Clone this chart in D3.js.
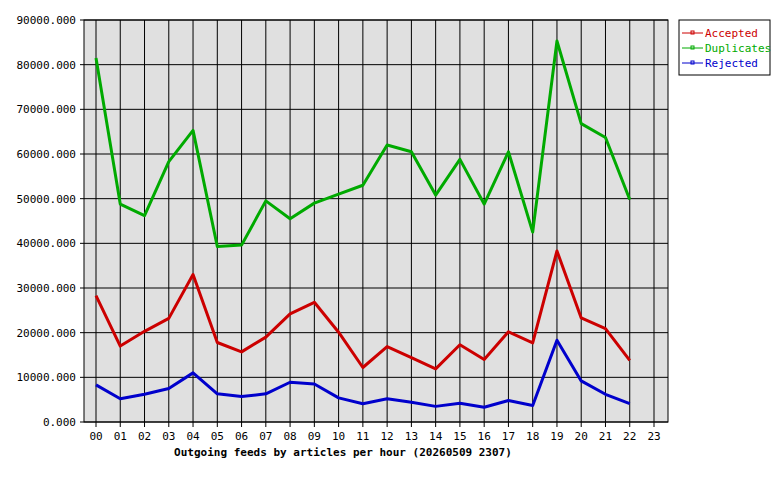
<!DOCTYPE html>
<html><head><meta charset="utf-8">
<script src="https://cdn.jsdelivr.net/npm/d3@7"></script>
<style>body{margin:0;background:#fff}text{font-family:"DejaVu Sans Mono",monospace;font-size:11px}</style>
</head><body><svg id="c" width="780" height="480"></svg>
<script>
const hours=["00","01","02","03","04","05","06","07","08","09","10","11","12","13","14","15","16","17","18","19","20","21","22","23"];
const accepted=[28300,17000,20300,23200,33000,17800,15700,19000,24200,26800,20100,12200,16900,14400,11900,17300,14000,20200,17700,38300,23300,20900,13800];
const duplicates=[81500,48800,46200,58300,65300,39300,39600,49500,45500,49000,51000,53000,62000,60500,50800,58800,48800,60500,42500,85300,66800,63700,49800];
const rejected=[8300,5200,6200,7500,11000,6300,5700,6300,8900,8500,5400,4100,5200,4400,3500,4200,3300,4800,3700,18300,9200,6200,4100];
const yTicks=[0,10000,20000,30000,40000,50000,60000,70000,80000,90000];
const series=[{name:"Accepted",color:"#cc0000",v:accepted},{name:"Duplicates",color:"#00aa00",v:duplicates},{name:"Rejected",color:"#0000cc",v:rejected}];
const svg=d3.select("#c");
const L=84,R=668,T=20,B=422;
const x=d3.scalePoint().domain(hours).range([96,654]);
const y=d3.scaleLinear().domain([0,90000]).range([B,T]);
svg.append("rect").attr("x",L).attr("y",T).attr("width",R-L).attr("height",B-T).attr("fill","#e0e0e0");
const g=svg.append("g");
hours.forEach(h=>g.append("line").attr("x1",x(h)).attr("x2",x(h)).attr("y1",T).attr("y2",B+5).attr("stroke","#000"));
yTicks.forEach(t=>g.append("line").attr("x1",L-4).attr("x2",R).attr("y1",y(t)).attr("y2",y(t)).attr("stroke","#000"));
svg.append("rect").attr("x",L).attr("y",T).attr("width",R-L).attr("height",B-T).attr("fill","none").attr("stroke","#000");
yTicks.forEach(t=>svg.append("text").attr("x",L-8).attr("y",y(t)+4).attr("text-anchor","end").text(t.toFixed(3)));
hours.forEach(h=>svg.append("text").attr("x",x(h)).attr("y",B+18).attr("text-anchor","middle").text(h));
svg.append("text").attr("x",343).attr("y",456).attr("text-anchor","middle").attr("font-weight","bold").text("Outgoing feeds by articles per hour (20260509 2307)");
const line=d3.line().x((d,i)=>x(hours[i])).y(d=>y(d));
series.forEach(s=>svg.append("path").attr("d",line(s.v)).attr("fill","none").attr("stroke",s.color).attr("stroke-width",3).attr("stroke-linejoin","round"));
const lg=svg.append("g");
lg.append("rect").attr("x",679).attr("y",20).attr("width",91).attr("height",55).attr("fill","#fff").attr("stroke","#000");
series.forEach((s,i)=>{const yy=33+i*15;
lg.append("line").attr("x1",682).attr("x2",703).attr("y1",yy).attr("y2",yy).attr("stroke",s.color);
lg.append("rect").attr("x",691).attr("y",yy-2).attr("width",3).attr("height",3).attr("fill","none").attr("stroke",s.color).attr("stroke-width",1);
lg.append("text").attr("x",705).attr("y",yy+4).attr("fill",s.color).text(s.name);});
</script></body></html>
